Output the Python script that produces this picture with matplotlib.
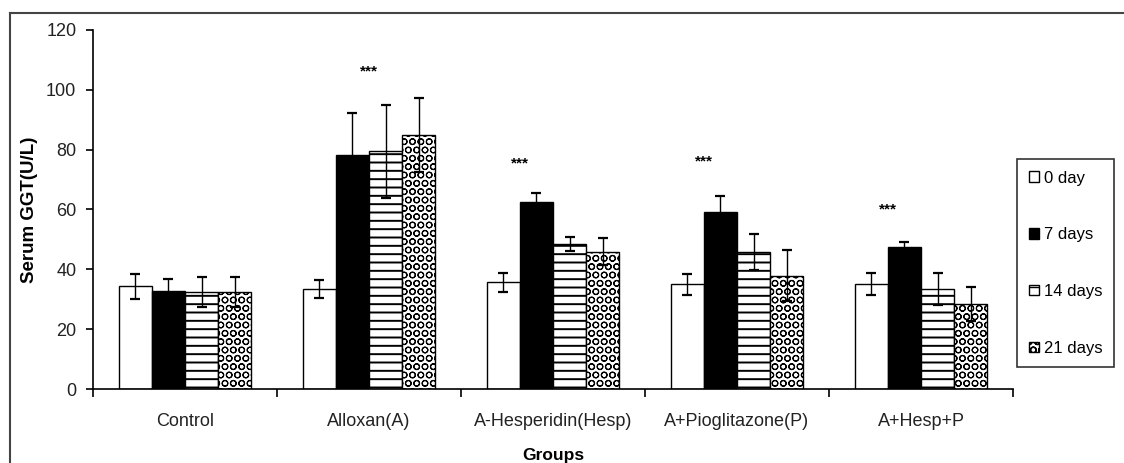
# Serum GGT grouped bar chart with error bars
import numpy as np
import matplotlib.pyplot as plt
from matplotlib.lines import Line2D

plt.rcParams['font.family'] = ['Liberation Sans', 'DejaVu Sans']

# Data
groups = ["Control", "Alloxan(A)", "A-Hesperidin(Hesp)", "A+Pioglitazone(P)", "A+Hesp+P"]
series = ["0 day", "7 days", "14 days", "21 days"]
day0 = [34.3, 33.4, 35.7, 35.0, 35.0]
day7 = [32.8, 78.3, 62.6, 59.1, 47.3]
day14 = [32.3, 79.4, 48.5, 45.9, 33.4]
day21 = [32.3, 84.9, 45.9, 37.8, 28.4]
err0 = [4.3, 3.0, 3.2, 3.6, 3.7]
err7 = [4.0, 14.0, 3.0, 5.5, 2.0]
err14 = [5.0, 15.5, 2.4, 6.0, 5.3]
err21 = [5.0, 12.5, 4.5, 8.5, 5.8]
# significance marks: (group index, height)
stars_group = [1, 2, 3, 4]
stars_y = [106, 75.5, 76, 60]

values = [day0, day7, day14, day21]
errors = [err0, err7, err14, err21]
faces = ['white', 'black', 'white', 'white']
hatches = [None, None, '--', 'OO']
hatch_lw = [1.0, 1.0, 1.4, 0.8]

fig = plt.figure(figsize=(11.24, 4.63), dpi=100)
ax = fig.add_axes([93 / 1124, 74 / 463, 920 / 1124, 359 / 463])

x = np.arange(len(groups)) + 0.5
width = 0.18
offsets = [-1.5 * width, -0.5 * width, 0.5 * width, 1.5 * width]

for i in range(4):
    with plt.rc_context({'hatch.linewidth': hatch_lw[i]}):
        ax.bar(x + offsets[i], values[i], width, color=faces[i], edgecolor='black',
               hatch=hatches[i], linewidth=1.0, label=series[i], zorder=2)
    ax.errorbar(x + offsets[i], values[i], yerr=errors[i], fmt='none',
                ecolor='black', elinewidth=1.0, capsize=3.6, capthick=1.6, zorder=3)

# *** markers
for g, yv in zip(stars_group, stars_y):
    xs = x[g] if g == 1 else x[g] - 0.18
    ax.text(xs, yv, '***', ha='center', va='center', fontsize=11, fontweight='bold')

ax.set_xlim(0, 5)
ax.set_ylim(0, 120)
ax.set_yticks(range(0, 121, 20))
ax.set_xticks(x)
ax.set_xticklabels(groups, fontsize=13, color='#222222')
ax.set_xticks(np.arange(0, 6), minor=True)
ax.tick_params(axis='x', which='major', length=0, pad=17)
ax.tick_params(axis='x', which='minor', length=6, width=1.2, direction='out')
ax.tick_params(axis='y', length=5, width=1.2, labelsize=13, labelcolor='#222222', pad=7)
for s in ['top', 'right']:
    ax.spines[s].set_visible(False)
for s in ['left', 'bottom']:
    ax.spines[s].set_linewidth(1.2)

ax.set_ylabel('Serum GGT(U/L)', fontsize=13.5, fontweight='bold', labelpad=6)
ax.set_xlabel('Groups', fontsize=12.5, fontweight='bold', labelpad=13)

leg = fig.legend(loc='upper left', bbox_to_anchor=(1017 / 1124, 1 - 159 / 463),
                 fontsize=12, handlelength=0.6, handleheight=0.6, handletextpad=0.3,
                 labelspacing=2.5, borderpad=0.7, frameon=True, fancybox=False,
                 borderaxespad=0)
leg.get_frame().set_edgecolor('black')
leg.get_frame().set_linewidth(1.2)

# outer frame (left and top edges visible)
fig.add_artist(Line2D([10 / 1124, 10 / 1124], [0, 1 - 13 / 463], transform=fig.transFigure,
                      color='#444444', linewidth=1.5))
fig.add_artist(Line2D([10 / 1124, 1], [1 - 13 / 463, 1 - 13 / 463], transform=fig.transFigure,
                      color='#444444', linewidth=1.5))

fig.savefig('out.png', dpi=100)
